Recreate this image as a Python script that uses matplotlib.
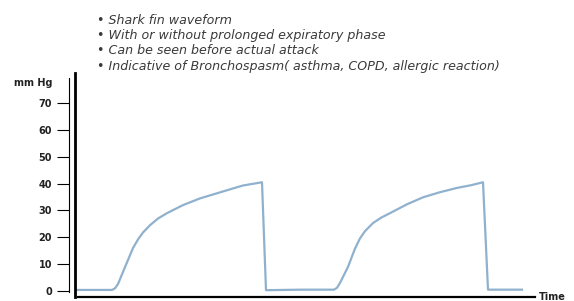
import matplotlib
matplotlib.use("Agg")
import matplotlib.pyplot as plt

# data (time in arbitrary units, pressure in mm Hg)
time = [0, 37, 40, 43, 50, 58, 63, 68, 75, 83, 92, 108, 125, 142, 158, 168, 187, 191, 225,
        259, 262, 265, 273, 280, 285, 290, 298, 306, 315, 332, 348, 365, 382, 396, 408, 413, 447]
co2 = [0.4, 0.4, 1.0, 2.6, 8.9, 16, 19.2, 21.8, 24.5, 27, 29, 32, 34.5, 36.4, 38.2, 39.3, 40.5, 0.3, 0.5,
       0.5, 1.2, 3, 9, 15.8, 19.6, 22.3, 25.3, 27.3, 29, 32.3, 34.9, 36.8, 38.4, 39.4, 40.5, 0.5, 0.5]
yticks = [0, 10, 20, 30, 40, 50, 60, 70]
bullets = ["Shark fin waveform",
           "With or without prolonged expiratory phase",
           "Can be seen before actual attack",
           "Indicative of Bronchospasm( asthma, COPD, allergic reaction)"]

W, H = 574, 301
fig = plt.figure(figsize=(W / 100, H / 100), dpi=100)
ax = fig.add_axes([75 / W, (H - 297) / H, 460 / W, 224 / H])
ax.set_xlim(0, 460)
ax.set_ylim(-2.23, 81.2)

ax.plot(time, co2, color="#90b1cd", lw=1.6, solid_joinstyle="round")

# left "ruler" spine with ticks
ax.spines["left"].set_position(("outward", 4.5))
ax.spines["left"].set_linewidth(0.8)
ax.spines["left"].set_bounds(-0.3, 79.3)
ax.spines["right"].set_visible(False)
ax.spines["top"].set_visible(False)
ax.spines["bottom"].set_linewidth(1.6)
ax.spines["bottom"].set_bounds(3, 460)
ax.set_xticks([])
ax.set_yticks(yticks)
ax.set_yticklabels([str(v) for v in yticks], fontweight="bold", fontsize=7, color="#222222")
ax.tick_params(axis="y", length=8.5, width=0.8, pad=3.5, direction="out")

# thick axis line
ax.axvline(0, color="black", lw=2, clip_on=False)

ax.text(1.008, 0, "Time", transform=ax.transAxes, ha="left", va="center",
        fontsize=7, fontweight="bold", color="#222222")
fig.text(52 / W, 1 - 83 / H, "mm Hg", ha="right", va="center",
         fontsize=7, fontweight="bold", color="#222222")

fig.text(97 / W, 1 - 14 / H, "\n".join("\u2022 " + b for b in bullets),
         ha="left", va="top", fontsize=9.1, fontstyle="italic", family="DejaVu Sans",
         color="#3a3a3a", linespacing=1.22)

fig.savefig("out.png", dpi=100)
